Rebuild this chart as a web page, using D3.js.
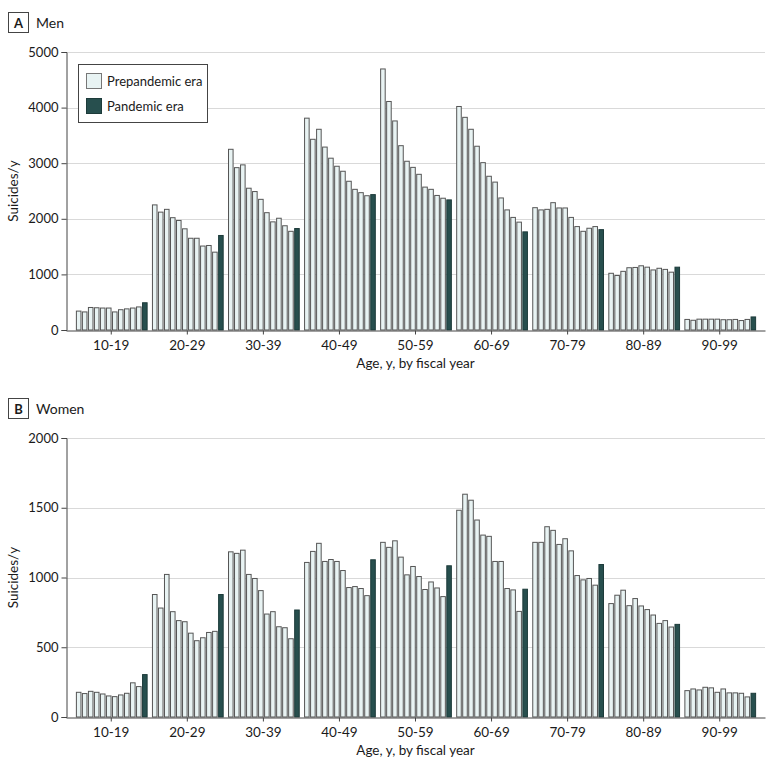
<!DOCTYPE html>
<html>
<head>
<meta charset="utf-8">
<script src="https://cdn.jsdelivr.net/npm/d3@7"></script>
<style>
  body { margin: 0; background: #fff; }
  svg { display: block; font-family: Lato, "Open Sans", sans-serif; }
</style>
</head>
<body>
<svg id="chart" width="780" height="771"></svg>
<script>
// ---------- DATA ----------
const ageGroups = ["10-19", "20-29", "30-39", "40-49", "50-59", "60-69", "70-79", "80-89", "90-99"];
const seriesNames = ["Prepandemic era", "Pandemic era"];

// Men: 11 prepandemic fiscal years per age group
const menPrepandemic = [
  [340, 325, 405, 400, 395, 395, 325, 365, 380, 395, 415],
  [2250, 2120, 2170, 2020, 1970, 1820, 1650, 1650, 1510, 1520, 1400],
  [3250, 2920, 2970, 2550, 2490, 2350, 2110, 1945, 2010, 1875, 1775],
  [3810, 3430, 3610, 3290, 3090, 2945, 2855, 2675, 2530, 2470, 2415],
  [4695, 4110, 3760, 3315, 3035, 2925, 2800, 2570, 2530, 2420, 2370],
  [4020, 3825, 3610, 3305, 3010, 2765, 2660, 2375, 2160, 2025, 1940],
  [2200, 2160, 2170, 2290, 2195, 2195, 2025, 1860, 1775, 1830, 1860],
  [1020, 980, 1055, 1120, 1125, 1155, 1130, 1080, 1110, 1090, 1040],
  [190, 175, 195, 195, 195, 195, 185, 185, 190, 170, 190]
];
const menPandemic = [490, 1700, 1825, 2435, 2340, 1765, 1805, 1130, 235];

// Women: 11 prepandemic fiscal years per age group
const womenPrepandemic = [
  [177, 168, 184, 177, 165, 151, 146, 158, 170, 245, 218],
  [878, 781, 1022, 755, 691, 683, 601, 547, 568, 606, 614],
  [1184, 1173, 1196, 1022, 993, 906, 738, 755, 647, 640, 561],
  [1108, 1187, 1245, 1115, 1129, 1115, 1050, 928, 935, 921, 870],
  [1252, 1216, 1263, 1146, 1019, 1079, 1007, 914, 968, 925, 863],
  [1482, 1597, 1554, 1412, 1304, 1295, 1115, 1115, 921, 911, 757],
  [1252, 1252, 1364, 1338, 1237, 1278, 1191, 1014, 983, 993, 945],
  [813, 873, 909, 798, 849, 796, 770, 731, 671, 691, 645],
  [189, 201, 194, 213, 209, 177, 201, 173, 173, 170, 144]
];
const womenPandemic = [304, 878, 767, 1127, 1084, 916, 1093, 664, 170];

const menTicks = [0, 1000, 2000, 3000, 4000, 5000];
const womenTicks = [0, 500, 1000, 1500, 2000];

// ---------- DRAW ----------
const svg = d3.select("#chart");
const left = 66, right = 765;
const colPre = "#e8f3f3", colPan = "#274f4e";
const textCol = "#1a1a1a";

const x0 = d3.scaleBand().domain(ageGroups).range([left, right])
  .paddingInner(0.07).paddingOuter(0.13);
const x1 = d3.scaleBand().domain(d3.range(12)).range([0, x0.bandwidth()])
  .paddingInner(0.24);

function panel(opts) {
  const { letter, title, top, bottom, maxY, ticks, pre, pan } = opts;
  const y = d3.scaleLinear().domain([0, maxY]).range([bottom, top]);
  const g = svg.append("g");

  // panel label
  g.append("rect").attr("x", 8.5).attr("y", top - 39.5).attr("width", 20).attr("height", 20)
    .attr("fill", "#fff").attr("stroke", "#444").attr("stroke-width", 1);
  g.append("text").attr("x", 18.5).attr("y", top - 24.5).attr("text-anchor", "middle")
    .attr("font-size", 13).attr("font-weight", "bold").attr("fill", textCol).text(letter);
  g.append("text").attr("x", 36).attr("y", top - 24).attr("font-size", 14)
    .attr("fill", textCol).text(title);

  // gridlines
  g.append("g").selectAll("line").data(ticks.filter(t => t > 0)).join("line")
    .attr("x1", left).attr("x2", right)
    .attr("y1", d => Math.round(y(d)) + 0.5).attr("y2", d => Math.round(y(d)) + 0.5)
    .attr("stroke", "#d9d9d9").attr("stroke-width", 1.2);

  // bars
  const groupsG = g.append("g").selectAll("g").data(ageGroups).join("g")
    .attr("transform", d => `translate(${x0(d)},0)`);
  groupsG.selectAll("rect")
    .data((d, i) => pre[i].map((v, j) => ({ v, j, era: 0 })).concat([{ v: pan[i], j: 11, era: 1 }]))
    .join("rect")
    .attr("x", d => x1(d.j) + 0.5)
    .attr("y", d => y(d.v))
    .attr("width", x1.bandwidth())
    .attr("height", d => y(0) - y(d.v))
    .attr("fill", d => d.era ? colPan : colPre)
    .attr("stroke", d => d.era ? "#1d3b3a" : "#555")
    .attr("stroke-width", 1);

  // y axis
  const ya = g.append("g").attr("transform", `translate(${left + 0.5},0)`)
    .call(d3.axisLeft(y).tickValues(ticks).tickSize(5).tickPadding(3).tickFormat(d3.format("d")));
  ya.select(".domain").attr("stroke", "#444");
  ya.selectAll(".tick line").attr("stroke", "#444");
  ya.selectAll(".tick text").attr("font-size", 13).attr("fill", textCol)
    .attr("font-family", "Lato, sans-serif");

  // x axis
  const xa = g.append("g").attr("transform", `translate(0,${bottom + 0.5})`)
    .call(d3.axisBottom(x0).tickSize(4).tickPadding(6).tickSizeOuter(0));
  xa.select(".domain").attr("stroke", "#444");
  xa.selectAll(".tick line").attr("stroke", "#444");
  xa.selectAll(".tick text").attr("font-size", 13.5).attr("fill", textCol)
    .attr("font-family", "Lato, sans-serif");

  // axis titles
  g.append("text").attr("x", (left + right) / 2).attr("y", bottom + 38)
    .attr("text-anchor", "middle").attr("font-size", 13.5).attr("fill", textCol)
    .text("Age, y, by fiscal year");
  g.append("text").attr("transform", `translate(18,${(top + bottom) / 2}) rotate(-90)`)
    .attr("text-anchor", "middle").attr("font-size", 13.5).attr("fill", textCol)
    .text("Suicides/y");
  return g;
}

const gA = panel({ letter: "A", title: "Men", top: 52, bottom: 330, maxY: 5000,
  ticks: menTicks, pre: menPrepandemic, pan: menPandemic });
panel({ letter: "B", title: "Women", top: 438, bottom: 717, maxY: 2000,
  ticks: womenTicks, pre: womenPrepandemic, pan: womenPandemic });

// legend
const lg = gA.append("g");
lg.append("rect").attr("x", 78.5).attr("y", 64.5).attr("width", 129).attr("height", 58)
  .attr("fill", "#fff").attr("stroke", "#444").attr("stroke-width", 1);
const items = lg.selectAll("g.item").data(seriesNames).join("g").attr("class", "item")
  .attr("transform", (d, i) => `translate(0,${i * 25})`);
items.append("rect").attr("x", 86.5).attr("y", 73.5).attr("width", 15).attr("height", 15)
  .attr("fill", (d, i) => i ? colPan : colPre)
  .attr("stroke", (d, i) => i ? "#1d3b3a" : "#777");
items.append("text").attr("x", 107).attr("y", 86).attr("font-size", 13).attr("fill", textCol)
  .text(d => d);
</script>
</body>
</html>
